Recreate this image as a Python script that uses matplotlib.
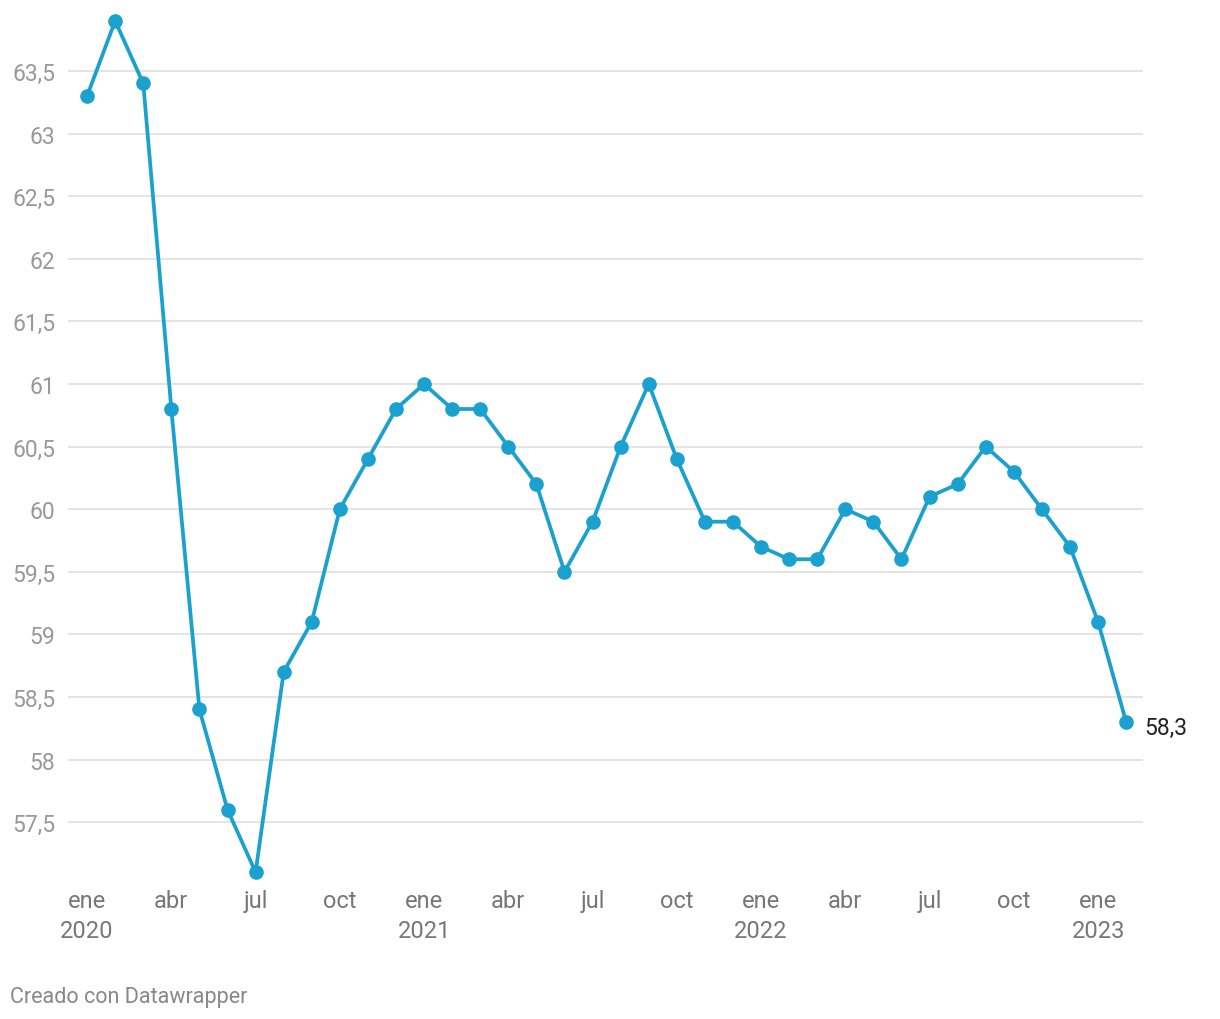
import matplotlib.pyplot as plt
import numpy as np

plt.rcParams['font.family'] = ['Roboto', 'DejaVu Sans']

# Werte Jan 2020 - Feb 2023
values = [63.3, 63.9, 63.4, 60.8, 58.4, 57.6, 57.1, 58.7, 59.1, 60.0, 60.4, 60.8,
          61.0, 60.8, 60.8, 60.5, 60.2, 59.5, 59.9, 60.5, 61.0, 60.4, 59.9, 59.9,
          59.7, 59.6, 59.6, 60.0, 59.9, 59.6, 60.1, 60.2, 60.5, 60.3, 60.0, 59.7,
          59.1, 58.3]
tick_pos = [0, 3, 6, 9, 12, 15, 18, 21, 24, 27, 30, 33, 36]
tick_labels = ['ene\n2020', 'abr', 'jul', 'oct', 'ene\n2021', 'abr', 'jul', 'oct',
               'ene\n2022', 'abr', 'jul', 'oct', 'ene\n2023']
y_ticks = [57.5, 58, 58.5, 59, 59.5, 60, 60.5, 61, 61.5, 62, 62.5, 63, 63.5]

color = '#1aa1cf'
x = np.arange(len(values))

fig = plt.figure(figsize=(12.2, 10.2), dpi=100)
ax = fig.add_axes([68 / 1220, 1 - 880 / 1020, (1143 - 68) / 1220, 865 / 1020])

ax.plot(x, values, color=color, lw=2.7, marker='o', markersize=9.5, zorder=3)

ax.set_xlim(-0.68, 37.6)
ax.set_ylim(57.046, 63.955)

ax.set_yticks(y_ticks)
ax.set_yticklabels([f'{v:g}'.replace('.', ',') for v in y_ticks])
ax.set_xticks(tick_pos)
ax.set_xticklabels(tick_labels, linespacing=1.35)

ax.grid(axis='y', color='#e2e2e2', lw=1.3, zorder=0)
for s in ax.spines.values():
    s.set_visible(False)
ax.tick_params(axis='y', length=0, pad=9, labelsize=16.5, labelcolor='#999999')
ax.tick_params(axis='x', length=0, pad=7.5, labelsize=17, labelcolor='#777777')

# Letzter Wert
ax.annotate(f'{values[-1]:g}'.replace('.', ','), (x[-1], values[-1]),
            xytext=(13, -4), textcoords='offset points', va='center', ha='left',
            fontsize=16.5, color='#222222')

fig.text(10 / 1220, 1 - 998 / 1020, 'Creado con Datawrapper', fontsize=15.5,
         color='#888888', va='center', ha='left')

fig.savefig('out.png', dpi=100)
